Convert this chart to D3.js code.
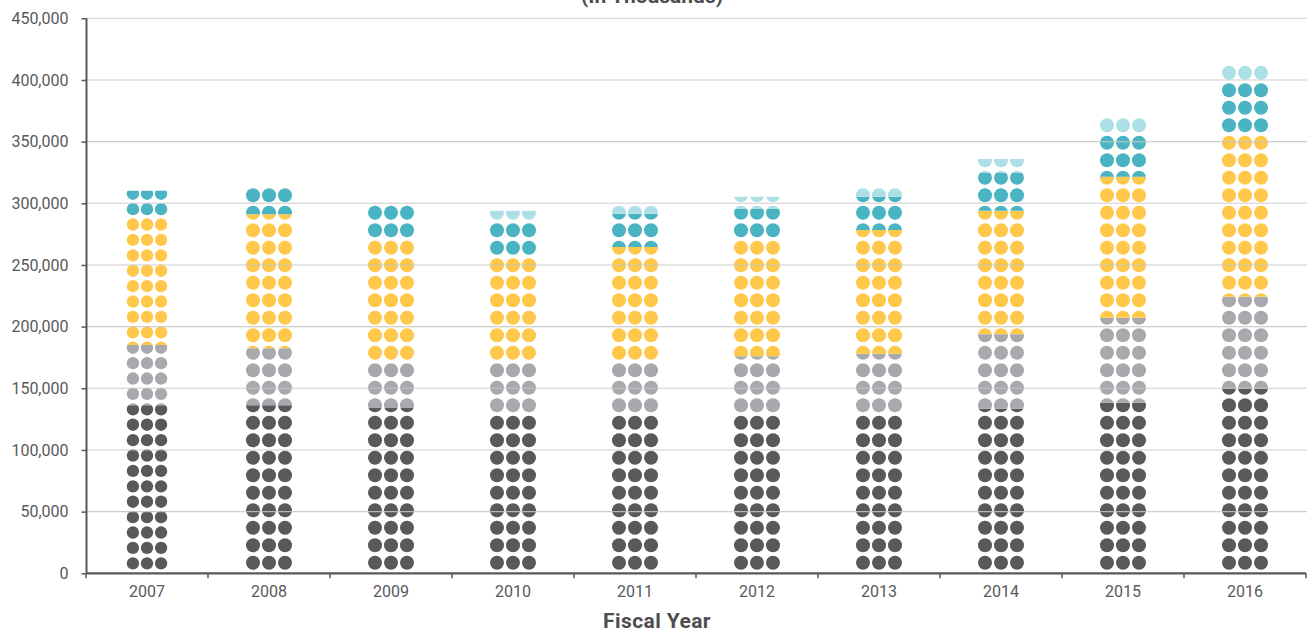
<!DOCTYPE html>
<html>
<head>
<meta charset="utf-8">
<script src="https://cdn.jsdelivr.net/npm/d3@7"></script>
<style>
  html, body { margin: 0; padding: 0; background: #ffffff; }
  svg { display: block; }
  text { font-family: Roboto, "DejaVu Sans", sans-serif; }
</style>
</head>
<body>
<svg id="chart" width="1307" height="634"></svg>
<script>
// ---------------- DATA (values in thousands of dollars) ----------------
const years = ["2007", "2008", "2009", "2010", "2011", "2012", "2013", "2014", "2015", "2016"];
const seriesNames = ["Series 1", "Series 2", "Series 3", "Series 4", "Series 5"];
const darkValues   = [136200, 136200, 134000, 129400, 130000, 130000, 130000, 133500, 138300, 149400];
const grayValues   = [ 48900,  46200,  37700,  42500,  42700,  46000,  48100,  60300,  69000,  74900];
const yellowValues = [103900, 108700,  99300,  84800,  91900,  95600, 100300, 100200, 114300, 133000];
const tealValues   = [ 21200,  23800,  28400,  28300,  27000,  23800,  27000,  30500,  35700,  41700];
const lightValues  = [     0,      0,      0,   9000,   9100,  10000,   9000,  11500,  14200,  13000];
const yTickValues  = [0, 50000, 100000, 150000, 200000, 250000, 300000, 350000, 400000, 450000];
const xTitle = "Fiscal Year";
const chartTitle = "(In Thousands)";

// ---------------- STYLE ----------------
const seriesColors = ["#58595b", "#a7a9ac", "#ffc84b", "#4ab4c3", "#addfe6"];
const dotScaleByYear = { "2007": 0.88 };   // the first column is drawn with smaller dots
const BASE_R = 7, BASE_PX = 16, BASE_PY = 17.5, BASE_OFFSET = 10.5;
const textColor = "#58595b";

const svg = d3.select("#chart");
const x = d3.scaleBand().domain(years).range([86, 1306]).padding(0);
const y = d3.scaleLinear().domain([0, 450000]).range([573.3, 18.3]);

const seriesValues = [darkValues, grayValues, yellowValues, tealValues, lightValues];
const defs = svg.append("defs");

// ---------------- DOT COLUMNS ----------------
const plot = svg.append("g");
years.forEach((yr, yi) => {
  const s = dotScaleByYear[yr] || 1;
  const r = BASE_R * s, px = BASE_PX * s, py = BASE_PY * s;
  const cx = x(yr) + x.bandwidth() / 2;
  let cum = 0;
  seriesValues.forEach((vals, si) => {
    const v = vals[yi];
    if (!v) return;
    const v0 = cum, v1 = cum + v;
    cum = v1;
    const yTop = y(v1), yBot = y(v0);
    const id = `clip-${yr}-${si}`;
    defs.append("clipPath").attr("id", id)
      .append("rect")
      .attr("x", cx - 40).attr("width", 80)
      .attr("y", yTop).attr("height", yBot - yTop);
    const g = plot.append("g").attr("clip-path", `url(#${id})`);
    const rows = [];
    for (let i = 0; ; i++) {
      const cy = y(0) - BASE_OFFSET * (s < 1 ? 0.95 : 1) - i * py;
      if (cy + r < yTop) break;
      if (cy - r <= yBot) rows.push(cy);
    }
    rows.forEach(cy => {
      [-1, 0, 1].forEach(c => {
        g.append("circle")
          .attr("cx", cx + c * px)
          .attr("cy", cy)
          .attr("r", r)
          .attr("fill", seriesColors[si]);
      });
    });
  });
});

// ---------------- GRIDLINES (drawn over the dots) ----------------
svg.append("g")
  .selectAll("line")
  .data(yTickValues.filter(d => d > 0))
  .join("line")
  .attr("x1", 87).attr("x2", 1307)
  .attr("y1", d => y(d)).attr("y2", d => y(d))
  .attr("stroke", "#c6c6c6")
  .attr("stroke-opacity", 0.85)
  .attr("stroke-width", 1.1);

// ---------------- Y AXIS ----------------
const yAxis = svg.append("g")
  .attr("transform", "translate(86.5,0)")
  .call(d3.axisLeft(y).tickValues(yTickValues).tickFormat(d3.format(",")).tickSize(5).tickPadding(13));
yAxis.select(".domain").attr("stroke", textColor).attr("stroke-width", 2)
  .attr("d", `M0,${y(450000)}V${y(0)}`);
yAxis.selectAll(".tick line").attr("stroke", textColor).attr("stroke-width", 1.5);
yAxis.selectAll(".tick text")
  .attr("fill", textColor)
  .style("font-size", "16px")
  .style("font-family", "Roboto, sans-serif");

// ---------------- X AXIS ----------------
const xg = svg.append("g").attr("transform", `translate(0,${y(0)})`);
xg.append("line")
  .attr("x1", 86).attr("x2", 1306)
  .attr("y1", 0).attr("y2", 0)
  .attr("stroke", textColor).attr("stroke-width", 2.2);
const edges = years.map(d => x(d)).concat([x.range()[1]]);
xg.selectAll(".xtick").data(edges).join("line")
  .attr("class", "xtick")
  .attr("x1", d => d).attr("x2", d => d)
  .attr("y1", 0).attr("y2", 5)
  .attr("stroke", textColor).attr("stroke-width", 1.5);
xg.selectAll(".xlab").data(years).join("text")
  .attr("class", "xlab")
  .attr("x", d => x(d) + x.bandwidth() / 2)
  .attr("y", 24)
  .attr("text-anchor", "middle")
  .attr("fill", textColor)
  .style("font-size", "16px")
  .text(d => d);

// ---------------- TITLES ----------------
svg.append("text")
  .attr("x", 657).attr("y", 628)
  .attr("text-anchor", "middle")
  .attr("fill", "#4d4d4f")
  .style("font-size", "21px")
  .style("font-weight", "700")
  .style("letter-spacing", "0.4px")
  .text(xTitle);

svg.append("text")
  .attr("x", 652).attr("y", 2.5)
  .attr("text-anchor", "middle")
  .attr("fill", "#4d4d4f")
  .style("font-size", "21px")
  .style("font-weight", "700")
  .text(chartTitle);
</script>
</body>
</html>
